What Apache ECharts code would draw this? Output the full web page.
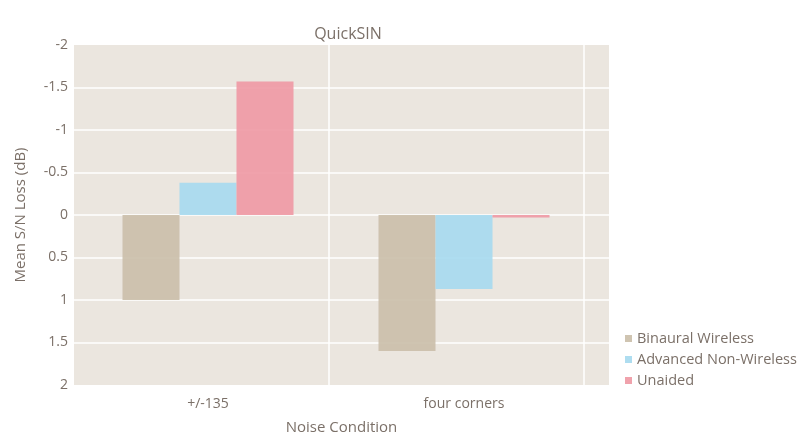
<!DOCTYPE html>
<html>
<head>
<meta charset="utf-8">
<script src="https://cdn.jsdelivr.net/npm/echarts@6/dist/echarts.min.js"></script>
<style>
  html, body { margin: 0; padding: 0; background: #fff; }
  #main { width: 812px; height: 437px; }
</style>
</head>
<body>
<div id="main"></div>
<script>
// data
var categories = ['+/-135', 'four corners'];
var binaural = [1.0, 1.6];
var advanced = [-0.38, 0.87];
var unaided = [-1.57, 0.03];
var seriesNames = ['Binaural Wireless', 'Advanced Non-Wireless', 'Unaided'];

var textColor = '#7b7068';
var font = 'Open Sans';
var colors = ['#cbbfaa', '#a7daef', '#ef9aa5'];

var myChart = echarts.init(document.getElementById('main'));

var option = {
    color: colors,
    textStyle: { fontFamily: font, color: textColor },
    title: {
        text: 'QuickSIN',
        left: 343,
        top: 21,
        textAlign: 'center',
        textStyle: { fontFamily: font, fontSize: 16, fontWeight: 'normal', color: textColor }
    },
    legend: {
        orient: 'vertical',
        left: 620,
        top: 326,
        icon: 'rect',
        itemWidth: 7,
        itemHeight: 7,
        itemGap: 6,
        data: seriesNames,
        textStyle: { fontFamily: font, fontSize: 14.5, color: textColor }
    },
    grid: [
        // background plot area with grid lines
        { left: 74, right: 203, top: 45, bottom: 52, show: true, backgroundColor: '#ebe6df', borderWidth: 0, outerBoundsMode: 'none', containLabel: false },
        // bars
        { left: 80, right: 220, top: 45, bottom: 52, outerBoundsMode: 'none', containLabel: false }
    ],
    xAxis: [{
        gridIndex: 0,
        type: 'value',
        min: 0,
        max: 2.1,
        interval: 1,
        name: 'Noise Condition',
        nameLocation: 'middle',
        nameGap: 35,
        nameTextStyle: { fontFamily: font, fontSize: 15, color: textColor },
        axisLabel: { show: false },
        axisLine: { show: false },
        axisTick: { show: false },
        splitLine: { show: true, showMinLine: false, showMaxLine: false, lineStyle: { color: '#ffffff', width: 1.5 } }
    }, {
        gridIndex: 1,
        type: 'category',
        data: categories,
        axisLabel: { fontFamily: font, fontSize: 14, color: textColor, margin: 12 },
        axisLine: { show: false },
        axisTick: { show: false },
        splitLine: { show: false }
    }],
    yAxis: [{
        gridIndex: 0,
        type: 'value',
        inverse: true,
        min: -2,
        max: 2,
        interval: 0.5,
        name: 'Mean S/N Loss (dB)',
        nameLocation: 'middle',
        nameGap: 46,
        nameTextStyle: { fontFamily: font, fontSize: 15, color: textColor },
        axisLabel: { fontFamily: font, fontSize: 14, color: textColor, margin: 6 },
        axisLine: { show: false },
        axisTick: { show: false },
        splitLine: { show: true, showMinLine: false, showMaxLine: false, lineStyle: { color: '#ffffff', width: 1.5 } }
    }, {
        gridIndex: 1,
        type: 'value',
        inverse: true,
        min: -2,
        max: 2,
        interval: 0.5,
        axisLabel: { show: false },
        axisLine: { show: false },
        axisTick: { show: false },
        splitLine: { show: false }
    }],
    series: [
        { name: seriesNames[0], type: 'bar', xAxisIndex: 1, yAxisIndex: 1, data: binaural, barWidth: 57, barGap: 0, itemStyle: { opacity: 0.92 } },
        { name: seriesNames[1], type: 'bar', xAxisIndex: 1, yAxisIndex: 1, data: advanced, barWidth: 57, barGap: 0, itemStyle: { opacity: 0.92 } },
        { name: seriesNames[2], type: 'bar', xAxisIndex: 1, yAxisIndex: 1, data: unaided, barWidth: 57, barGap: 0, itemStyle: { opacity: 0.92 } }
    ]
};

myChart.setOption(option);
</script>
</body>
</html>
